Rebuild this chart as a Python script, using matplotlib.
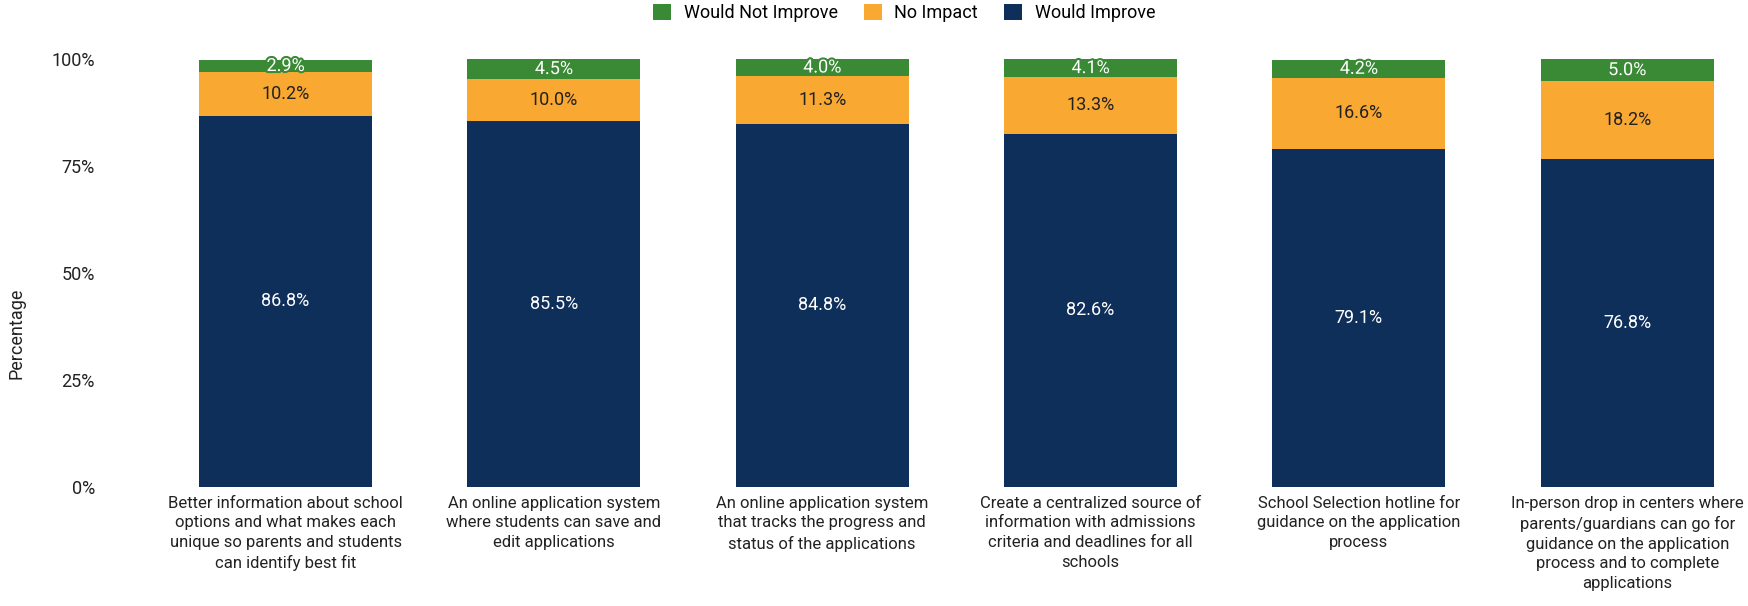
import numpy as np
import matplotlib.pyplot as plt
import matplotlib.patheffects as pe

plt.rcParams['font.family'] = ['Roboto', 'DejaVu Sans']

categorias = [
    "Better information about school\noptions and what makes each\nunique so parents and students\ncan identify best fit",
    "An online application system\nwhere students can save and\nedit applications",
    "An online application system\nthat tracks the progress and\nstatus of the applications",
    "Create a centralized source of\ninformation with admissions\ncriteria and deadlines for all\nschools",
    "School Selection hotline for\nguidance on the application\nprocess",
    "In-person drop in centers where\nparents/guardians can go for\nguidance on the application\nprocess and to complete\napplications",
]
would_improve = [86.8, 85.5, 84.8, 82.6, 79.1, 76.8]
no_impact = [10.2, 10.0, 11.3, 13.3, 16.6, 18.2]
would_not = [2.9, 4.5, 4.0, 4.1, 4.2, 5.0]

cor_azul = '#0d2f5a'
cor_laranja = '#f9a832'
cor_verde = '#3a8a35'
cor_texto = '#222222'

x = np.arange(len(categorias))
largura = 0.645

fig = plt.figure(figsize=(17.49, 6.06), dpi=100)
ax = fig.add_axes([0.0789, 0.197, 0.9205, 0.705])

b1 = ax.bar(x, would_improve, largura, color=cor_azul, label='Would Improve')
b2 = ax.bar(x, no_impact, largura, bottom=would_improve, color=cor_laranja, label='No Impact')
base3 = np.array(would_improve) + np.array(no_impact)
b3 = ax.bar(x, would_not, largura, bottom=base3, color=cor_verde, label='Would Not Improve')

# rotulos dentro das barras
for i in range(len(x)):
    ax.text(x[i], would_improve[i] / 2, f'{would_improve[i]:.1f}%', ha='center', va='center',
            color='white', fontsize=13)
    ax.text(x[i], would_improve[i] + no_impact[i] / 2, f'{no_impact[i]:.1f}%', ha='center',
            va='center', color=cor_texto, fontsize=13)
    ax.text(x[i], base3[i] + would_not[i] / 2, f'{would_not[i]:.1f}%', ha='center', va='center',
            color='white', fontsize=13,
            path_effects=[pe.withStroke(linewidth=3, foreground=cor_verde)])

ax.set_xlim(-0.55, 5.45)
ax.set_ylim(0, 100)
ax.set_yticks([0, 25, 50, 75, 100])
ax.set_yticklabels(['0%', '25%', '50%', '75%', '100%'])
ax.set_xticks(x)
ax.set_xticklabels(categorias, fontsize=12, color=cor_texto, linespacing=1.4)
ax.tick_params(axis='y', length=0, labelsize=13, colors=cor_texto, pad=31)
ax.tick_params(axis='x', length=0, colors=cor_texto, pad=6.5)
for s in ax.spines.values():
    s.set_visible(False)

fig.text(17 / 1749, 0.45, 'Percentage', rotation=90, ha='center', va='center',
         fontsize=13, color=cor_texto)

fig.legend(handles=[b3, b2, b1], loc='center', bbox_to_anchor=(0.517, 0.978), ncol=3,
           frameon=False, fontsize=13, handlelength=1.0, handleheight=1.0,
           handletextpad=0.7, columnspacing=1.45, borderaxespad=0, borderpad=0)

fig.savefig('out.png', dpi=100)
